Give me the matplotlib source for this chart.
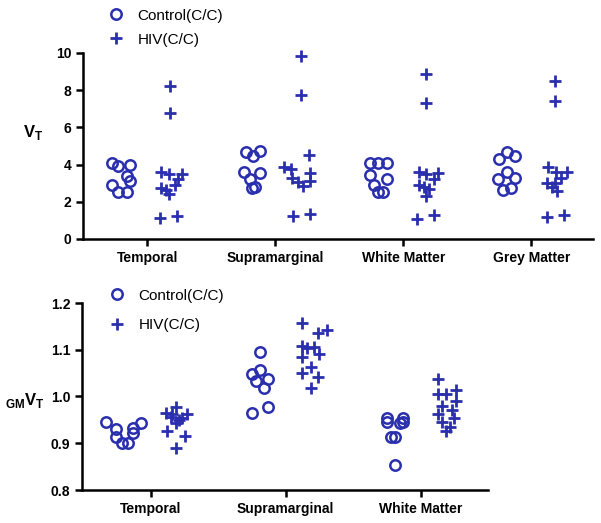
import matplotlib
matplotlib.use("Agg")
import matplotlib.pyplot as plt
from matplotlib.lines import Line2D

plt.rcParams['font.family'] = ['Liberation Sans', 'DejaVu Sans']
plt.rcParams['mathtext.fontset'] = 'custom'
plt.rcParams['mathtext.bf'] = 'Liberation Sans:bold'
plt.rcParams['mathtext.rm'] = 'Liberation Sans'

# --- data --------------------------------------------------------
regions_top = ["Temporal", "Supramarginal", "White Matter", "Grey Matter"]
regions_bot = ["Temporal", "Supramarginal", "White Matter"]

# V_T, controls (values) and their horizontal scatter offsets
vt_ctl = [
    [4.1, 3.9, 4.0, 3.4, 3.1, 2.9, 2.5, 2.5],
    [4.7, 4.45, 4.75, 3.6, 3.55, 3.2, 2.75, 2.8],
    [4.08, 4.08, 4.08, 3.45, 3.2, 2.9, 2.55, 2.55],
    [4.7, 4.3, 4.45, 3.6, 3.25, 3.3, 2.65, 2.75],
]
vt_ctl_dx = [
    [-0.27, -0.23, -0.13, -0.16, -0.13, -0.27, -0.23, -0.16],
    [-0.23, -0.17, -0.12, -0.24, -0.12, -0.2, -0.18, -0.16],
    [-0.26, -0.2, -0.125, -0.26, -0.13, -0.23, -0.2, -0.16],
    [-0.19, -0.25, -0.13, -0.19, -0.26, -0.125, -0.22, -0.16],
]
# V_T, HIV
vt_hiv = [
    [8.24, 6.77, 3.6, 3.5, 3.5, 3.2, 2.9, 2.74, 2.63, 2.42, 1.13, 1.24],
    [9.85, 7.75, 4.5, 3.87, 3.76, 3.55, 3.28, 3.06, 3.12, 2.85, 1.24, 1.34],
    [8.85, 7.3, 3.6, 3.5, 3.55, 3.23, 2.9, 2.8, 2.69, 2.3, 1.08, 1.29],
    [8.5, 7.4, 3.87, 3.6, 3.6, 3.28, 3.0, 2.8, 2.58, 3.0, 1.18, 1.29],
]
vt_hiv_dx = [
    [0.18, 0.18, 0.11, 0.17, 0.27, 0.24, 0.22, 0.11, 0.15, 0.17, 0.10, 0.23],
    [0.2, 0.2, 0.26, 0.07, 0.125, 0.27, 0.13, 0.18, 0.27, 0.22, 0.14, 0.27],
    [0.18, 0.18, 0.12, 0.18, 0.27, 0.24, 0.12, 0.16, 0.2, 0.18, 0.11, 0.24],
    [0.18, 0.18, 0.125, 0.19, 0.28, 0.23, 0.12, 0.16, 0.2, 0.18, 0.12, 0.25],
]

# GM-normalised V_T
gm_ctl = [
    [0.945, 0.93, 0.913, 0.90, 0.90, 0.922, 0.932, 0.943],
    [1.095, 1.057, 1.048, 1.037, 1.033, 1.018, 0.977, 0.965],
    [0.954, 0.945, 0.954, 0.943, 0.946, 0.913, 0.913, 0.853],
]
gm_ctl_dx = [
    [-0.33, -0.26, -0.26, -0.21, -0.17, -0.13, -0.13, -0.07],
    [-0.19, -0.19, -0.25, -0.13, -0.22, -0.16, -0.13, -0.25],
    [-0.25, -0.25, -0.13, -0.15, -0.13, -0.22, -0.19, -0.19],
]
gm_hiv = [
    [0.978, 0.965, 0.962, 0.956, 0.962, 0.954, 0.95, 0.943, 0.926, 0.916, 0.89],
    [1.157, 1.136, 1.142, 1.108, 1.103, 1.106, 1.085, 1.091, 1.064, 1.051, 1.042, 1.019],
    [1.037, 1.005, 1.005, 1.014, 0.99, 0.98, 0.971, 0.963, 0.954, 0.945, 0.935, 0.926],
]
gm_hiv_dx = [
    [0.185, 0.11, 0.16, 0.15, 0.27, 0.23, 0.21, 0.185, 0.12, 0.25, 0.185],
    [0.12, 0.24, 0.31, 0.12, 0.16, 0.21, 0.12, 0.25, 0.19, 0.12, 0.24, 0.19],
    [0.13, 0.13, 0.19, 0.26, 0.26, 0.16, 0.23, 0.13, 0.25, 0.16, 0.22, 0.19],
]

BLUE = '#2a2fae'
circ = dict(marker='o', ls='none', mfc='none', mec=BLUE, ms=7.5, mew=1.8)
plus = dict(marker='+', ls='none', color=BLUE, ms=9, mew=2.0)


def style_axes(ax, labels):
    for s in ['top', 'right']:
        ax.spines[s].set_visible(False)
    for s in ['left', 'bottom']:
        ax.spines[s].set_linewidth(1.8)
    ax.tick_params(width=1.8, length=5, labelsize=10)
    ax.set_xticks(range(len(labels)))
    ax.set_xticklabels(labels, fontweight='bold')
    for t in ax.get_yticklabels():
        t.set_fontweight('bold')


def draw(ax, ctl, ctl_dx, hiv, hiv_dx):
    for i in range(len(ctl)):
        ax.plot([i + d for d in ctl_dx[i]], ctl[i], clip_on=False, **circ)
        ax.plot([i + d for d in hiv_dx[i]], hiv[i], clip_on=False, **plus)


def add_legend(fig, x, y, spacing):
    handles = [Line2D([], [], **circ), Line2D([], [], **plus)]
    fig.legend(handles, ['Control(C/C)', 'HIV(C/C)'], loc='upper left',
               bbox_to_anchor=(x, y), bbox_transform=fig.transFigure,
               frameon=False, fontsize=11, handlelength=1.0,
               handletextpad=0.9, labelspacing=spacing, borderpad=0)


W, H = 601, 523
fig = plt.figure(figsize=(W / 100, H / 100), dpi=100)

# --- top panel ----------------------------------------------------
ax1 = fig.add_axes([83 / W, 1 - 239 / H, 510 / W, 186 / H])
draw(ax1, vt_ctl, vt_ctl_dx, vt_hiv, vt_hiv_dx)
ax1.set_xlim(-0.5, 3.48)
ax1.set_ylim(0, 10)
ax1.set_yticks([0, 2, 4, 6, 8, 10])
style_axes(ax1, regions_top)
fig.text(23 / W, 1 - 133 / H, r'$\mathbf{V}_{\mathbf{T}}$', fontsize=12,
         va='center', ha='left')
add_legend(fig, 101 / W, 1 - 1 / H, 0.65)

# --- bottom panel -------------------------------------------------
ax2 = fig.add_axes([82 / W, 1 - 490 / H, 406 / W, 187 / H])
draw(ax2, gm_ctl, gm_ctl_dx, gm_hiv, gm_hiv_dx)
ax2.set_xlim(-0.51, 2.5)
ax2.set_ylim(0.8, 1.2)
ax2.set_yticks([0.8, 0.9, 1.0, 1.1, 1.2])
ax2.set_yticklabels(['0.8', '0.9', '1.0', '1.1', '1.2'])
style_axes(ax2, regions_bot)
fig.text(5 / W, 1 - 400 / H, r'$_{\mathbf{GM}}\mathbf{V}_{\mathbf{T}}$',
         fontsize=12, va='center', ha='left')
add_legend(fig, 102 / W, 1 - 281 / H, 1.0)

fig.savefig('out.png', dpi=100)
